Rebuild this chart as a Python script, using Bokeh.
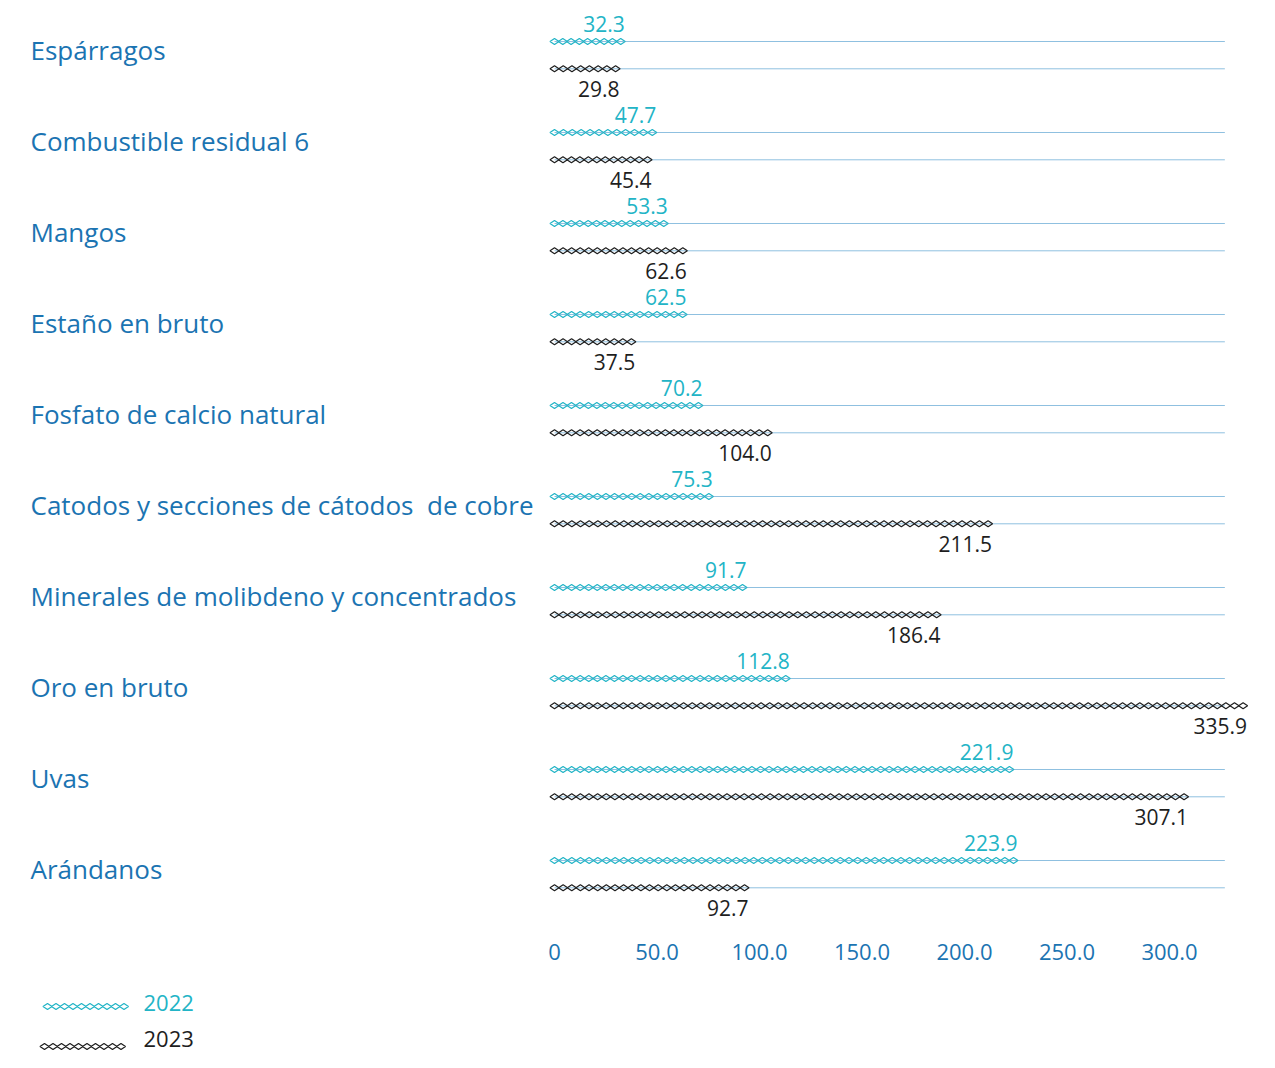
import numpy as np
from bokeh.plotting import figure
from bokeh.models import Range1d, FixedTicker
from bokeh.layouts import column
from bokeh.embed import file_html
from bokeh.resources import INLINE
from bokeh.core.properties import value

# ---------------- data ----------------
categories = [
    "Espárragos",
    "Combustible residual 6",
    "Mangos",
    "Estaño en bruto",
    "Fosfato de calcio natural",
    "Catodos y secciones de cátodos  de cobre",
    "Minerales de molibdeno y concentrados",
    "Oro en bruto",
    "Uvas",
    "Arándanos",
]
values_2022 = [32.3, 47.7, 53.3, 62.5, 70.2, 75.3, 91.7, 112.8, 221.9, 223.9]
values_2023 = [29.8, 45.4, 62.6, 37.5, 104.0, 211.5, 186.4, 335.9, 307.1, 92.7]
series_names = ["2022", "2023"]
tick_values = [0, 50, 100, 150, 200, 250, 300]
tick_labels = ["0", "50.0", "100.0", "150.0", "200.0", "250.0", "300.0"]
track_max = 327

# ---------------- style ----------------
BLUE = "#1b74b2"
TEAL = "#22b4c6"
DARK = "#1e1e1e"
TRACK = "#8fc0e0"
FONT = "Open Sans"

W = 1259
MAIN_H = 972
AXIS_H = 40
FRAME_H = MAIN_H - AXIS_H
LEG_H = 1052 - MAIN_H
PX = 2.05         # pixels per unit
ZERO_PX = 554     # pixel position of 0
ROW_PX = 91       # pixels per row
TOP_PX = 41       # first line from top
PAIR_GAP = 0.30   # distance between the two series of a row (rows)
LABEL_SHIFT = 8 / ROW_PX
STEP = 4.2        # diamond spacing in data units
DSIZE = 9

x_range = Range1d(-ZERO_PX / PX, (W - ZERO_PX) / PX)
y_range = Range1d(-(FRAME_H - TOP_PX) / ROW_PX, TOP_PX / ROW_PX)

p = figure(width=W, height=MAIN_H, x_range=x_range, y_range=y_range,
           output_backend="svg", toolbar_location=None,
           min_border_left=0, min_border_right=0, min_border_top=0,
           min_border_bottom=AXIS_H, y_axis_location=None)
p.outline_line_color = None
p.grid.visible = False

ax = p.xaxis[0]
ax.ticker = FixedTicker(ticks=tick_values)
ax.major_label_overrides = {t: l for t, l in zip(tick_values, tick_labels)}
ax.axis_line_color = None
ax.major_tick_line_color = None
ax.minor_tick_line_color = None
ax.major_label_text_color = BLUE
ax.major_label_text_font = FONT
ax.major_label_text_font_size = "22px"
ax.major_label_standoff = 5

n = len(categories)
y22 = [-i for i in range(n)]
y23 = [-i - PAIR_GAP for i in range(n)]
ylab = [-i - LABEL_SHIFT for i in range(n)]

# tracks
for ys in (y22, y23):
    p.segment(x0=[0] * n, x1=[track_max] * n, y0=ys, y1=ys, line_color=TRACK, line_width=1)


def diamond_rows(vals, ys):
    xs, yy = [], []
    for v, y in zip(vals, ys):
        k = int(round(v / STEP)) + 1
        pts = np.linspace(0, v, k)
        xs.extend(pts)
        yy.extend([y] * k)
    return xs, yy


for vals, ys, col in ((values_2022, y22, TEAL), (values_2023, y23, DARK)):
    xs, yy = diamond_rows(vals, ys)
    p.scatter(xs, yy, marker="diamond", size=DSIZE, angle=np.pi / 2,
              fill_alpha=0, line_color=col, line_width=1.2)

# value labels
p.text(x=values_2022, y=y22, text=[f"{v:.1f}" for v in values_2022],
       text_align="right", text_baseline="middle", x_offset=4, y_offset=-18,
       text_color=TEAL, text_font=value(FONT), text_font_size="21px")
p.text(x=values_2023, y=y23, text=[f"{v:.1f}" for v in values_2023],
       text_align="right", text_baseline="middle", x_offset=4, y_offset=20,
       text_color=DARK, text_font=value(FONT), text_font_size="21px")

# category labels (keep the double space visible)
shown = [c.replace("  ", " \u00a0") for c in categories]
p.text(x=[x_range.start + 30 / PX] * n, y=ylab, text=shown,
       text_align="left", text_baseline="middle",
       text_color=BLUE, text_font=value(FONT), text_font_size="26px")

# ---------------- legend ----------------
lg = figure(width=W, height=LEG_H, x_range=Range1d(0, W), y_range=Range1d(LEG_H, 0),
            output_backend="svg", toolbar_location=None, min_border=0,
            x_axis_location=None, y_axis_location=None)
lg.outline_line_color = None
lg.grid.visible = False

leg_rows = [(34, 30, TEAL, 47), (74, 66, DARK, 44)]
for name, (ym, yt, col, x0) in zip(series_names, leg_rows):
    xs = [x0 + 8.5 * j for j in range(10)]
    lg.scatter(xs, [ym] * 10, marker="diamond", size=DSIZE, angle=np.pi / 2,
               fill_alpha=0, line_color=col, line_width=1.2)
    lg.text(x=[143], y=[yt], text=[name], text_align="left", text_baseline="middle",
            text_color=col, text_font=value(FONT), text_font_size="22px")

layout = column(p, lg, spacing=0)
open("out.html", "w").write(file_html(layout, INLINE))
